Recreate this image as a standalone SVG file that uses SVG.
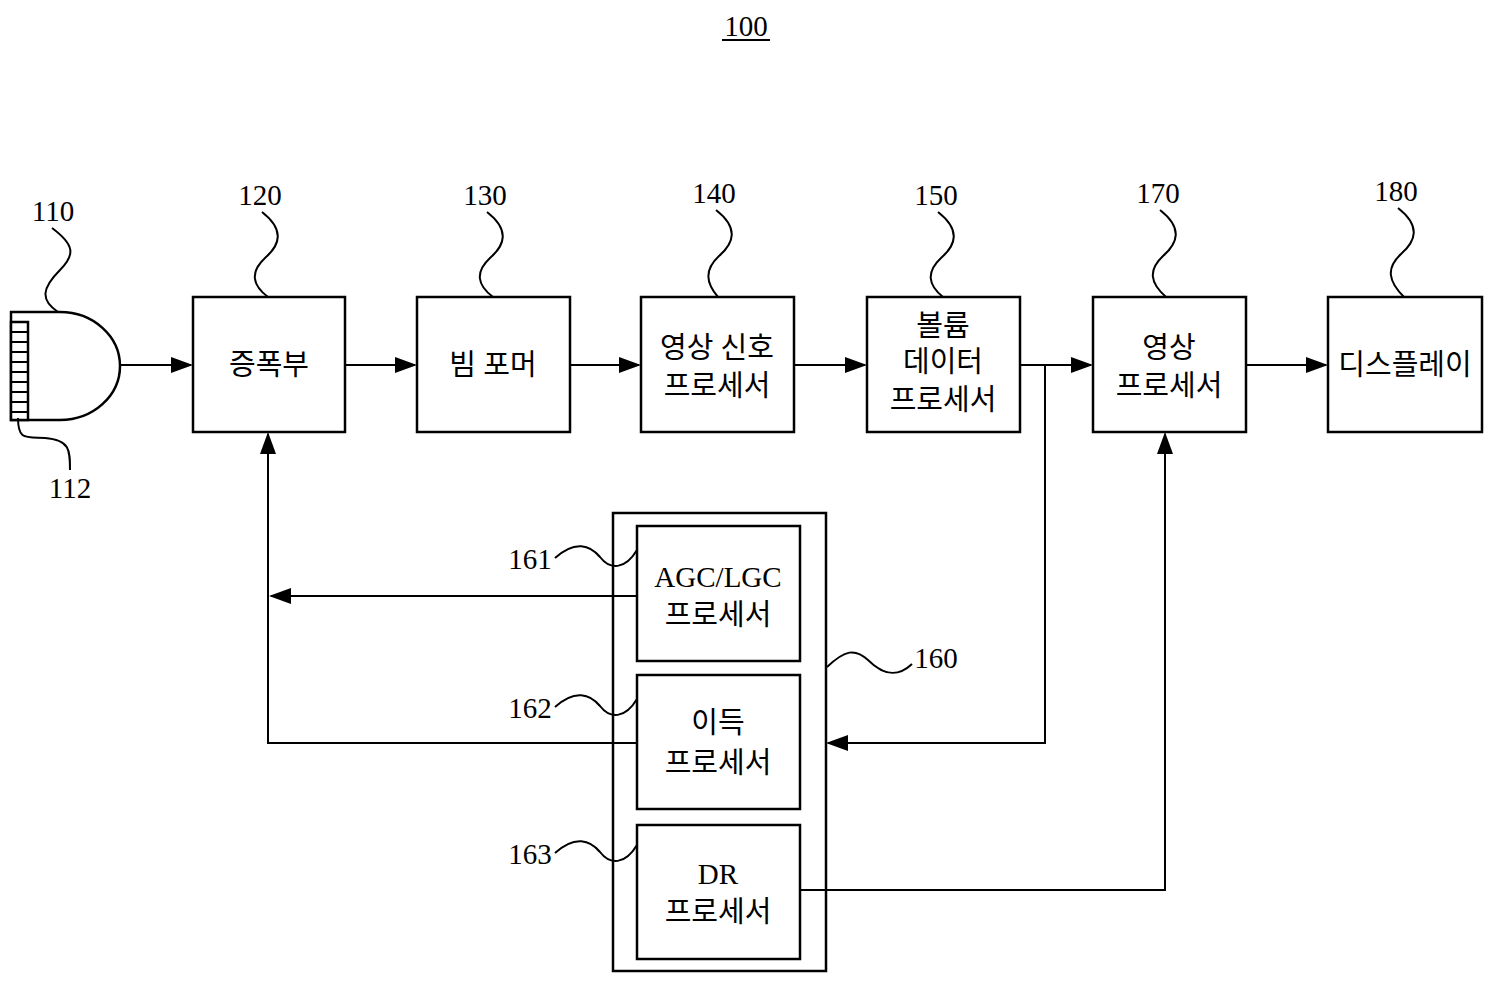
<svg xmlns="http://www.w3.org/2000/svg" width="1500" height="990" viewBox="0 0 1500 990">
<defs>
<marker id="ah" markerWidth="22" markerHeight="16" refX="20" refY="8" orient="auto" markerUnits="userSpaceOnUse"><path d="M0,0 L22,8 L0,16 Z" fill="#000"/></marker>
<style>
.b{fill:#fff;stroke:#000;stroke-width:2.5}
.l{fill:none;stroke:#000;stroke-width:2}
.t{font-family:"Liberation Serif","Noto Sans CJK KR",serif;font-size:29px;text-anchor:middle;fill:#000}
.n{font-family:"Liberation Serif",serif;font-size:29px;text-anchor:middle;fill:#000}
</style>
</defs>
<rect width="1500" height="990" fill="#fff"/>
<text class="n" x="746" y="36">100</text>
<line x1="722" y1="40" x2="770" y2="40" stroke="#000" stroke-width="2"/>
<g id="n110">
<path class="b" d="M11,312 H60 A60,54 0 0 1 60,420 H11 Z"/>
<rect class="b" x="11" y="322" width="17" height="98" stroke-width="1.5"/>
<path class="l" stroke-width="1.5" d="M11,332 H28 M11,342 H28 M11,352 H28 M11,362 H28 M11,372 H28 M11,382 H28 M11,392 H28 M11,402 H28 M11,412 H28"/>
<text class="n" x="53" y="221">110</text>
<path class="l" d="M52,228 C75,245 75,255 60,270 C42,288 40,300 58,312"/>
<text class="n" x="70" y="498">112</text>
<path class="l" d="M18,418 C18,440 25,437 45,438 C70,440 70,450 70,470"/>
</g>
<g id="n120"><rect class="b" x="193" y="297" width="152" height="135"/><text class="t" x="269" y="375">증폭부</text>
<text class="n" x="260" y="205">120</text><path class="l" d="M262,212 C285,230 280,245 265,258 C250,272 252,285 268,297"/></g>
<g id="n130"><rect class="b" x="417" y="297" width="153" height="135"/><text class="t" x="493" y="375">빔 포머</text>
<text class="n" x="485" y="205">130</text><path class="l" d="M487,212 C510,230 505,245 490,258 C475,272 477,285 493,297"/></g>
<g id="n140"><rect class="b" x="641" y="297" width="153" height="135"/><text class="t" x="717" y="358">영상 신호</text><text class="t" x="717" y="396">프로세서</text>
<text class="n" x="714" y="203">140</text><path class="l" d="M716,210 C739,228 734,243 719,256 C704,270 706,283 718,297"/></g>
<g id="n150"><rect class="b" x="867" y="297" width="153" height="135"/><text class="t" x="943" y="336">볼륨</text><text class="t" x="943" y="372">데이터</text><text class="t" x="943" y="410">프로세서</text>
<text class="n" x="936" y="205">150</text><path class="l" d="M938,212 C961,230 956,245 941,258 C926,272 928,285 943,297"/></g>
<g id="n170"><rect class="b" x="1093" y="297" width="153" height="135"/><text class="t" x="1169" y="358">영상</text><text class="t" x="1169" y="396">프로세서</text>
<text class="n" x="1158" y="203">170</text><path class="l" d="M1160,210 C1183,228 1178,243 1163,256 C1148,270 1150,283 1166,297"/></g>
<g id="n180"><rect class="b" x="1328" y="297" width="154" height="135"/><text class="t" x="1405" y="375">디스플레이</text>
<text class="n" x="1396" y="201">180</text><path class="l" d="M1398,208 C1421,226 1416,241 1401,254 C1386,268 1388,281 1404,297"/></g>
<g id="n160"><rect class="b" x="613" y="513" width="213" height="458"/>
<text class="n" x="936" y="668">160</text><path class="l" d="M827,667 C845,650 855,648 868,660 C880,672 895,680 912,664"/></g>
<g id="n161"><rect class="b" x="637" y="526" width="163" height="135"/><text class="t" x="718" y="587">AGC/LGC</text><text class="t" x="718" y="625">프로세서</text>
<text class="n" x="530" y="569">161</text><path class="l" d="M555,558 C575,540 590,545 600,557 C610,570 625,570 637,550"/></g>
<g id="n162"><rect class="b" x="637" y="675" width="163" height="134"/><text class="t" x="718" y="733">이득</text><text class="t" x="718" y="773">프로세서</text>
<text class="n" x="530" y="718">162</text><path class="l" d="M555,707 C575,689 590,694 600,706 C610,719 625,719 637,699"/></g>
<g id="n163"><rect class="b" x="637" y="825" width="163" height="134"/><text class="t" x="718" y="884">DR</text><text class="t" x="718" y="922">프로세서</text>
<text class="n" x="530" y="864">163</text><path class="l" d="M555,853 C575,835 590,840 600,852 C610,865 625,865 637,845"/></g>
<g id="connectors" class="l">
<line x1="120" y1="365" x2="191" y2="365" marker-end="url(#ah)"/>
<line x1="345" y1="365" x2="415" y2="365" marker-end="url(#ah)"/>
<line x1="570" y1="365" x2="639" y2="365" marker-end="url(#ah)"/>
<line x1="794" y1="365" x2="865" y2="365" marker-end="url(#ah)"/>
<line x1="1020" y1="365" x2="1091" y2="365" marker-end="url(#ah)"/>
<line x1="1246" y1="365" x2="1326" y2="365" marker-end="url(#ah)"/>
<line x1="637" y1="596" x2="271" y2="596" marker-end="url(#ah)"/>
<polyline points="637,743 268,743 268,434" marker-end="url(#ah)"/>
<polyline points="1045,365 1045,743 828,743" marker-end="url(#ah)"/>
<polyline points="800,890 1165,890 1165,434" marker-end="url(#ah)"/>
</g>
</svg>
